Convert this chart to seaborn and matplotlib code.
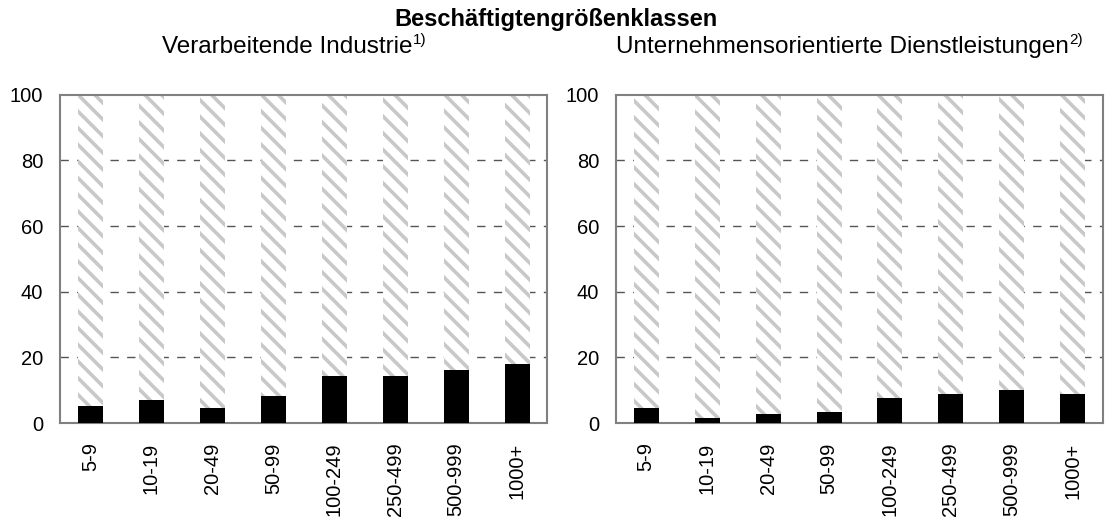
import matplotlib
matplotlib.use("Agg")
import matplotlib.pyplot as plt
import seaborn as sns
import pandas as pd

# Data (shares in %)
classes = ["5-9", "10-19", "20-49", "50-99", "100-249", "250-499", "500-999", "1000+"]
industrie = [5.2, 7.0, 4.6, 8.2, 14.3, 14.3, 16.2, 18.0]
dienstleistungen = [4.6, 1.5, 2.7, 3.4, 7.6, 8.8, 10.0, 8.8]
total = [100] * len(classes)

panel_titles = ["Verarbeitende Industrie", "Unternehmensorientierte Dienstleistungen"]
footnotes = ["1)", "2)"]
main_title = "Beschäftigtengrößenklassen"

sns.set_theme(style="white")
plt.rcParams["font.family"] = ["Liberation Sans", "DejaVu Sans"]
plt.rcParams["hatch.linewidth"] = 2.6
plt.rcParams["text.color"] = "black"
plt.rcParams["xtick.color"] = "black"
plt.rcParams["ytick.color"] = "black"

fig, axes = plt.subplots(1, 2, figsize=(11.11, 5.21), dpi=100)

for ax, values, title, note in zip(axes, [industrie, dienstleistungen], panel_titles, footnotes):
    df = pd.DataFrame({"klasse": classes, "wert": values, "gesamt": total})
    sns.barplot(data=df, x="klasse", y="gesamt", color="white", width=0.41,
                edgecolor="#c8c8c8", linewidth=0, hatch="\\\\", ax=ax, zorder=2)
    sns.barplot(data=df, x="klasse", y="wert", color="black", width=0.41,
                linewidth=0, ax=ax, zorder=3)
    ax.set_ylim(0, 100)
    ax.set_xlim(-0.5, len(classes) - 0.5)
    ax.set_yticks([0, 20, 40, 60, 80, 100])
    ax.set_xlabel("")
    ax.set_ylabel("")
    t = ax.set_title(title, fontsize=17.5, pad=30, x=0.466)
    # footnote marker as superscript right after the panel title
    ax.annotate(note, xy=(1, 1), xycoords=t, xytext=(0, 2), textcoords="offset points",
                ha="left", va="top", fontsize=11)
    ax.tick_params(axis="y", labelsize=14.5, length=0, pad=12)
    ax.tick_params(axis="x", labelsize=14.5, length=0, rotation=90, pad=14)
    for y in [20, 40, 60, 80]:
        ax.axhline(y, color="#555555", lw=1, ls=(0, (6, 6)), zorder=1)
    for s in ax.spines.values():
        s.set_color("#808080")
        s.set_linewidth(1.5)

fig.suptitle(main_title, fontsize=17, fontweight="bold", y=0.985)
plt.subplots_adjust(left=0.054, right=0.993, top=0.818, bottom=0.188, wspace=0.14)
plt.savefig("out.png", dpi=100)
